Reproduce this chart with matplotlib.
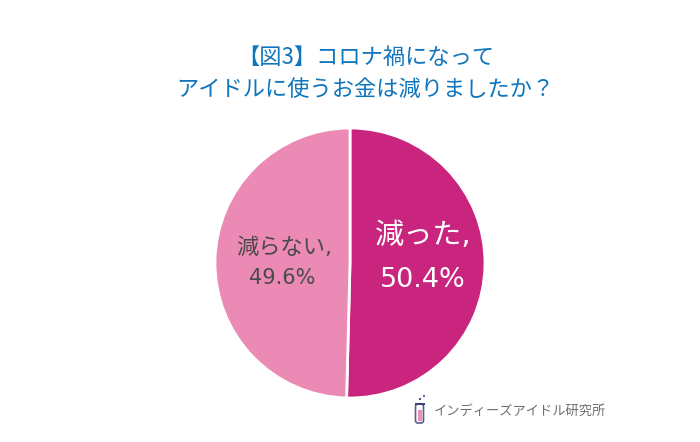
import matplotlib
matplotlib.use('Agg')
import matplotlib.pyplot as plt
from matplotlib.patches import Rectangle, Circle, FancyBboxPatch

# DejaVu first for the digits, they are wide like the original font
plt.rcParams['font.family'] = ['DejaVu Sans', 'Noto Sans CJK JP']

title_lines = ['【図3】コロナ禍になって', 'アイドルに使うお金は減りましたか\uff1f']
labels = ['減った', '減らない']
values = [50.4, 49.6]
colors = ['#C9257F', '#EB8AB5']
logo_text = 'インディーズアイドル研究所'

fig = plt.figure(figsize=(7, 4.42), dpi=100)

# axes covers the whole figure, units are pixels
ax = fig.add_axes([0, 0, 1, 1])

# y axis is inverted below, so 270 is the top of the circle on screen
ax.pie(values, colors=colors, startangle=270, counterclock=True,
       center=(350, 263), radius=135, frame=True,
       wedgeprops={'edgecolor': 'white', 'linewidth': 2})
ax.set_xlim(0, 700)
ax.set_ylim(442, 0)
ax.set_aspect('equal')
ax.axis('off')

for line, x, y in zip(title_lines, [366, 365], [57, 89]):
    ax.text(x, y, line, ha='center', va='center', fontsize=16, color='#0F75BD',
            family=['Noto Sans CJK JP', 'DejaVu Sans'])

ax.text(423, 236, labels[0] + ',', ha='center', va='center', fontsize=21, color='white')
ax.text(423, 280, f'{values[0]}%', ha='center', va='center', fontsize=19.5, color='white')
ax.text(284, 248, labels[1] + ',', ha='center', va='center', fontsize=16, color='#4A4A4A')
ax.text(282, 278, f'{values[1]}%', ha='center', va='center', fontsize=15, color='#4A4A4A')

# small test tube logo
ax.add_patch(FancyBboxPatch((415.5, 404), 8, 19, boxstyle='round,pad=0,rounding_size=2.5',
                            facecolor='white', edgecolor='#5B5B8F', linewidth=1.2))
ax.add_patch(Rectangle((418, 410), 3.5, 11, facecolor='#F08CB8', edgecolor='none'))
ax.add_patch(Rectangle((414.5, 403), 10, 1.8, facecolor='#3F3F7F', edgecolor='none'))
ax.add_patch(Circle((420, 399), 1.1, facecolor='#3F3F7F', edgecolor='none'))
ax.add_patch(Circle((424, 396), 1.0, facecolor='#3F3F7F', edgecolor='none'))
ax.text(434, 411, logo_text, ha='left', va='center', fontsize=9.5,
        color='#6E6E6E', family=['Noto Sans CJK JP', 'DejaVu Sans'])

fig.savefig('out.png', dpi=100)
